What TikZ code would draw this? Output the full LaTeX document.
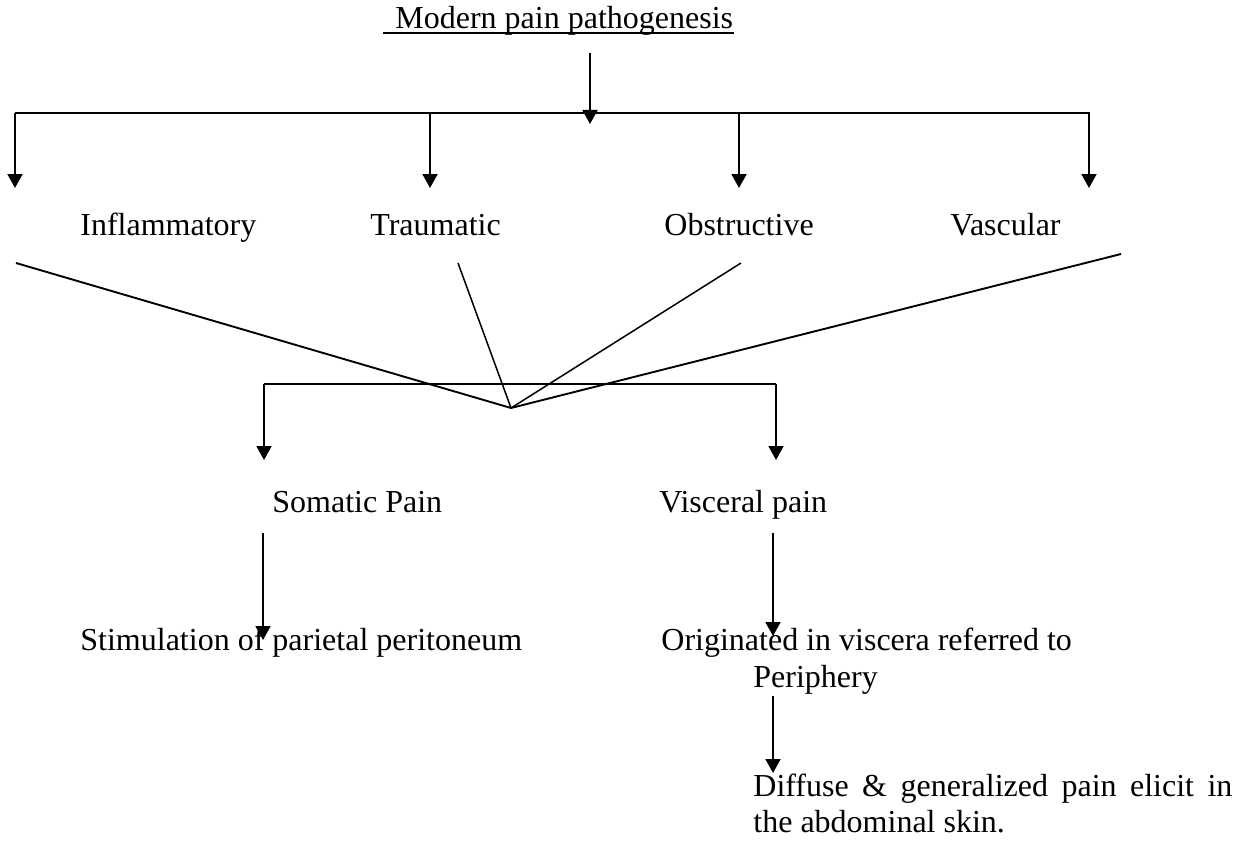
\documentclass[tikz,border=0pt]{standalone}
\usepackage{fontspec}
\setmainfont{Liberation Serif}
\usetikzlibrary{arrows.meta}
\begin{document}
\begin{tikzpicture}[x=0.5pt,y=-0.5pt,
  txt/.style={inner sep=0pt,anchor=base west,font=\fontsize{16}{18.4}\selectfont},
  ln/.style={line width=0.95pt,black},
  arr/.style={ln,-{Triangle[length=7pt,width=7.5pt]}}]
\useasboundingbox (0,0) rectangle (1246,840);
% texts
\node[txt] (title) at (395,29) {Modern pain pathogenesis};
\draw[line width=0.9pt] ([xshift=-6pt,yshift=-2.2pt]title.base west) -- ([yshift=-2.2pt]title.base east);
\node[txt] (inf) at (80,235) {Inflammatory};
\node[txt] (tra) at (370,235) {Traumatic};
\node[txt] (obs) at (664,235) {Obstructive};
\node[txt] (vas) at (950,235) {Vascular};
\node[txt] (som) at (272,512) {Somatic Pain};
\node[txt] (vis) at (659,512) {Visceral pain};
\node[txt] (stim) at (80,650) {Stimulation of parietal peritoneum};
\node[txt] (orig) at (661,650) {Originated in viscera referred to};
\node[txt] (peri) at (753,687) {Periphery};
\node[txt,text width=239.5pt,align=justify] (diff) at (753,796) {Diffuse \& generalized pain elicit in the abdominal skin.};
% coordinates
\coordinate (ta) at (590,53);
\coordinate (tb) at (590,124);
\coordinate (b1l) at (15,113);
\coordinate (b1r) at (1090,113);
\coordinate (a1) at (15,113);   \coordinate (a1e) at (15,188);
\coordinate (a2) at (430,113);  \coordinate (a2e) at (430,188);
\coordinate (a3) at (739,113);  \coordinate (a3e) at (739,188);
\coordinate (a4) at (1089,113); \coordinate (a4e) at (1089,188);
\coordinate (l1) at (16,263);
\coordinate (l2) at (458,263);
\coordinate (l3) at (741,263);
\coordinate (l4) at (1121,254);
\coordinate (hub) at (511,408);
\coordinate (b2l) at (264,384);
\coordinate (b2r) at (776,384);
\coordinate (c1e) at (264,460);
\coordinate (c2e) at (776,460);
\coordinate (d1) at (263,533); \coordinate (d1e) at (263,640);
\coordinate (d2) at (773,533); \coordinate (d2e) at (773,636);
\coordinate (e1) at (773,696); \coordinate (e1e) at (773,773);
% connectors
\draw[arr] (ta) -- (tb);
\draw[ln] (b1l) -- (b1r);
\draw[arr] (a1) -- (a1e);
\draw[arr] (a2) -- (a2e);
\draw[arr] (a3) -- (a3e);
\draw[arr] (a4) -- (a4e);
\draw[ln] (l1) -- (hub);
\draw[line width=0.75pt] (l2) -- (hub);
\draw[line width=0.75pt] (l3) -- (hub);
\draw[ln] (l4) -- (hub);
\draw[ln] (b2l) -- (b2r);
\draw[arr] (b2l) -- (c1e);
\draw[arr] (b2r) -- (c2e);
\draw[arr] (d1) -- (d1e);
\draw[arr] (d2) -- (d2e);
\draw[arr] (e1) -- (e1e);
\end{tikzpicture}
\end{document}
